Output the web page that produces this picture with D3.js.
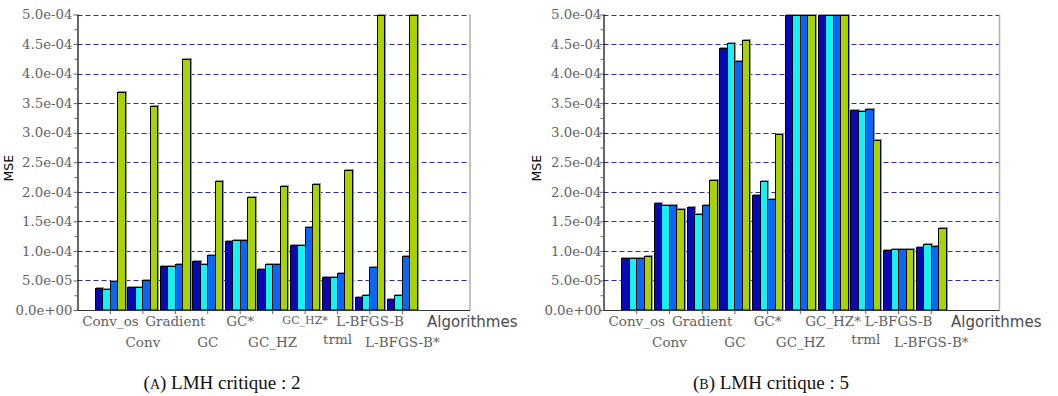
<!DOCTYPE html>
<html>
<head>
<meta charset="utf-8">
<script src="https://cdn.jsdelivr.net/npm/d3@7"></script>
<style>
  body { margin: 0; background: #fff; }
  svg { display: block; }
</style>
</head>
<body>
<svg id="fig" width="1058" height="396"></svg>
<script>
// Algorithms compared (one group of four bars each)
const categories = ["Conv_os", "Conv", "Gradient", "GC", "GC*", "GC_HZ", "GC_HZ*", "trml", "L-BFGS-B", "L-BFGS-B*"];

// MSE axis ticks
const mseTicks = [0, 5e-5, 1e-4, 1.5e-4, 2e-4, 2.5e-4, 3e-4, 3.5e-4, 4e-4, 4.5e-4, 5e-4];
const mseMinorTicks = [2.5e-5, 7.5e-5, 1.25e-4, 1.75e-4, 2.25e-4, 2.75e-4, 3.25e-4, 3.75e-4, 4.25e-4, 4.75e-4];

// Critical LMH = 2 (values at the top of the range are cut at 5.0e-04)
const lmh2Dark  = [0.367e-4, 0.384e-4, 0.750e-4, 0.830e-4, 1.170e-4, 0.690e-4, 1.100e-4, 0.565e-4, 0.220e-4, 0.186e-4];
const lmh2Cyan  = [0.350e-4, 0.384e-4, 0.746e-4, 0.774e-4, 1.180e-4, 0.770e-4, 1.100e-4, 0.554e-4, 0.250e-4, 0.250e-4];
const lmh2Blue  = [0.490e-4, 0.500e-4, 0.774e-4, 0.930e-4, 1.190e-4, 0.770e-4, 1.410e-4, 0.620e-4, 0.734e-4, 0.915e-4];
const lmh2Green = [3.690e-4, 3.460e-4, 4.250e-4, 2.190e-4, 1.920e-4, 2.090e-4, 2.140e-4, 2.370e-4, 5.000e-4, 5.000e-4];

// Critical LMH = 5
const lmh5Dark  = [0.884e-4, 1.807e-4, 1.740e-4, 4.430e-4, 1.950e-4, 5.000e-4, 5.000e-4, 3.380e-4, 1.008e-4, 1.070e-4];
const lmh5Cyan  = [0.884e-4, 1.785e-4, 1.620e-4, 4.520e-4, 2.180e-4, 5.000e-4, 5.000e-4, 3.370e-4, 1.040e-4, 1.110e-4];
const lmh5Blue  = [0.884e-4, 1.774e-4, 1.774e-4, 4.220e-4, 1.875e-4, 5.000e-4, 5.000e-4, 3.400e-4, 1.025e-4, 1.090e-4];
const lmh5Green = [0.906e-4, 1.717e-4, 2.196e-4, 4.570e-4, 2.970e-4, 5.000e-4, 5.000e-4, 2.880e-4, 1.030e-4, 1.380e-4];

const seriesColors = ["#0808b4", "#14f2f2", "#0a66f4", "#a8d200"];

const panels = [
  { letter: "A", caption: "LMH critique : 2", series: [lmh2Dark, lmh2Cyan, lmh2Blue, lmh2Green],
    x0: 77.5, x1: 470, labelGap: 5, mseX: 13, algX: 427, capX: 222, smallHz: true },
  { letter: "B", caption: "LMH critique : 5", series: [lmh5Dark, lmh5Cyan, lmh5Blue, lmh5Green],
    x0: 603.5, x1: 999.5, labelGap: 2, mseX: 541, algX: 951, capX: 771, smallHz: false }
];

const plotTop = 14.5, plotBottom = 310;
const serif = "'DejaVu Serif', serif";
const sans = "'DejaVu Sans', sans-serif";

// 5.0e-04 style labels
const fmtMSE = v => {
  const [m, e] = v.toExponential(1).split("e");
  const sign = e[0] === "-" ? "-" : "+";
  const digits = e.replace(/[+-]/, "").padStart(2, "0");
  return `${m}e${sign}${digits}`;
};

const svg = d3.select("#fig");

panels.forEach(p => {
  const g = svg.append("g");
  const x = d3.scaleLinear().domain([0, 12.1]).range([p.x0, p.x1]);
  const y = d3.scaleLinear().domain([0, 5e-4]).range([plotBottom, plotTop]);
  const crisp = v => Math.round(v) + 0.5;

  // dashed horizontal grid
  g.append("g").selectAll("line").data(mseTicks.slice(1)).join("line")
    .attr("x1", p.x0).attr("x2", p.x1)
    .attr("y1", d => crisp(y(d))).attr("y2", d => crisp(y(d)))
    .attr("stroke", "#2a2ab8").attr("stroke-width", 1)
    .attr("stroke-dasharray", "5,3");

  // right border of the plot area
  g.append("line")
    .attr("x1", p.x1).attr("x2", p.x1).attr("y1", plotTop).attr("y2", plotBottom)
    .attr("stroke", "#b0b0b0").attr("stroke-width", 1.5);

  // bars: four per algorithm, centred on the tick
  const bw = 0.23;
  const bars = [];
  categories.forEach((c, i) => {
    p.series.forEach((vals, j) => {
      bars.push({ i, j, v: Math.min(vals[i], 5e-4) });
    });
  });
  const barG = g.append("g");
  const left = d => Math.round(x(d.i + 1 - 2 * bw + d.j * bw));
  const right = d => Math.round(x(d.i + 1 - 2 * bw + (d.j + 1) * bw));
  const bx = d => left(d) + 0.5;
  const bwPx = d => right(d) - left(d);
  const by = d => Math.round(y(d.v)) + 0.5;

  // soft grey edge behind each bar
  barG.selectAll("rect.edge").data(bars).join("rect").attr("class", "edge")
    .attr("x", d => bx(d) + 1).attr("y", d => by(d) - 1)
    .attr("width", bwPx).attr("height", d => plotBottom - by(d) + 1)
    .attr("fill", "none").attr("stroke", "#999").attr("stroke-width", 1);

  barG.selectAll("rect.bar").data(bars).join("rect").attr("class", "bar")
    .attr("x", bx).attr("y", by)
    .attr("width", bwPx).attr("height", d => plotBottom - by(d))
    .attr("fill", d => seriesColors[d.j])
    .attr("stroke", "#000").attr("stroke-width", 1);

  // y axis with major and minor ticks
  const yAxis = g.append("g").attr("transform", `translate(${p.x0},0)`)
    .call(d3.axisLeft(y).tickValues(mseTicks).tickSize(4).tickFormat(fmtMSE));
  yAxis.select(".domain").attr("d", `M0.5,${plotTop}V${plotBottom}`).attr("stroke", "#000").attr("stroke-width", 1.2);
  yAxis.selectAll(".tick line").attr("stroke", "#666");
  yAxis.selectAll(".tick text")
    .attr("x", -p.labelGap)
    .attr("font-family", serif).attr("font-size", 13.3).attr("fill", "#5f5f5f");

  const yMinor = g.append("g").attr("transform", `translate(${p.x0},0)`)
    .call(d3.axisLeft(y).tickValues(mseMinorTicks).tickSize(3).tickFormat(""));
  yMinor.select(".domain").remove();
  yMinor.selectAll(".tick line").attr("stroke", "#666");

  // x axis with staggered algorithm names
  const xAxis = g.append("g").attr("transform", `translate(0,${plotBottom})`)
    .call(d3.axisBottom(x).tickValues(d3.range(1, categories.length + 1)).tickSize(4)
      .tickFormat(i => categories[i - 1]));
  xAxis.select(".domain").attr("d", `M${p.x0},0.5H${p.x1}`).attr("stroke", "#333").attr("stroke-width", 1.2);
  xAxis.selectAll(".tick line").attr("stroke", "#666");
  xAxis.selectAll(".tick text")
    .attr("font-family", serif).attr("fill", "#5f5f5f")
    .attr("dy", null)
    .attr("font-size", d => (p.smallHz && categories[d - 1] === "GC_HZ*") ? 11 : 13.5)
    .attr("y", d => {
      const name = categories[d - 1];
      let base = (d - 1) % 2 === 0 ? 16 : 37;
      if (name === "trml") base -= 3;
      if (p.smallHz && name === "GC_HZ*") base -= 2;
      return base;
    });

  // axis titles
  g.append("text").attr("x", p.algX).attr("y", 327)
    .attr("font-family", sans).attr("font-size", 15).attr("fill", "#4a4a4a")
    .text("Algorithmes");
  g.append("text")
    .attr("transform", `translate(${p.mseX},${(plotTop + plotBottom) / 2 + 6}) rotate(-90)`)
    .attr("text-anchor", "middle")
    .attr("font-family", sans).attr("font-size", 12.5).attr("fill", "#000")
    .text("MSE");

  // sub-figure caption
  const cap = g.append("text").attr("x", p.capX).attr("y", 389)
    .attr("text-anchor", "middle")
    .attr("font-family", "'Liberation Serif', serif").attr("font-size", 19).attr("fill", "#111");
  cap.append("tspan").text("(");
  cap.append("tspan").attr("font-size", 14).text(p.letter);
  cap.append("tspan").text(") " + p.caption);
});
</script>
</body>
</html>
